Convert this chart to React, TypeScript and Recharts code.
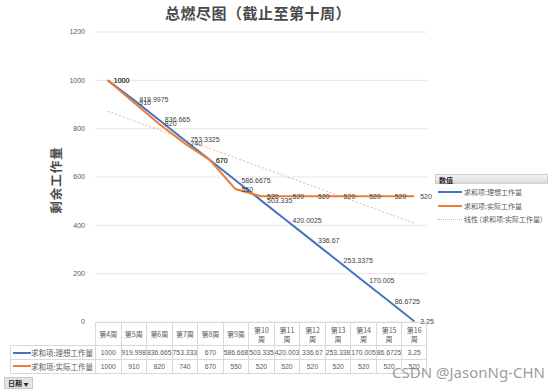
import React from 'react';
import { LineChart, Line, XAxis, YAxis, CartesianGrid, LabelList, ReferenceLine } from 'recharts';

const weeks = ['第4周', '第5周', '第6周', '第7周', '第8周', '第9周', '第10周', '第11周', '第12周', '第13周', '第14周', '第15周', '第16周'];
const idealWork = [1000, 919.9975, 836.665, 753.3325, 670, 586.6675, 503.335, 420.0025, 336.67, 253.3375, 170.005, 86.6725, 3.25];
const actualWork = [1000, 910, 820, 740, 670, 550, 520, 520, 520, 520, 520, 520, 520];
// linear trend of the actual series at its two ends
const trendStart = 872;
const trendEnd = 409;
const yTicks = [0, 200, 400, 600, 800, 1000, 1200];

const IDEAL = '#4472C4';
const ACTUAL = '#ED7D31';
const TREND = '#F4B183';

const PLOT_LEFT = 95;
const PLOT_RIGHT = 427;
const PLOT_TOP = 32;
const PLOT_BOTTOM = 322;
const COL_W = (PLOT_RIGHT - PLOT_LEFT) / weeks.length;

const cjk = '"Noto Sans CJK SC", "Liberation Sans", sans-serif';
const numFont = '"Liberation Sans", "Noto Sans CJK SC", sans-serif';

const fmt = (v: number) => String(parseFloat((v + 1e-9).toPrecision(6)));

const data = weeks.map((w, i) => ({ week: w, ideal: idealWork[i], actual: actualWork[i] }));

const cellBorder = '1px solid #d9d9d9';

const DataTable: React.FC = () => {
    const rows = [
        { name: '求和项:理想工作量', color: IDEAL, values: idealWork.map(fmt) },
        { name: '求和项:实际工作量', color: ACTUAL, values: actualWork.map(fmt) },
    ];
    return (
        <>
            {/* header */}
            <div style={{ position: 'absolute', left: PLOT_LEFT, top: PLOT_BOTTOM, height: 23, display: 'flex', borderTop: cellBorder }}>
                {weeks.map(w => (
                    <div key={w} style={{
                        width: COL_W, height: 23, boxSizing: 'border-box', borderLeft: cellBorder,
                        borderRight: w === weeks[weeks.length - 1] ? cellBorder : undefined,
                        display: 'flex', flexDirection: 'column', alignItems: 'center', justifyContent: 'center',
                        fontSize: 7, lineHeight: '9px', color: '#595959', fontFamily: cjk,
                    }}>
                        {w.length > 3 ? (<><span>{w.slice(0, -1)}</span><span>{w.slice(-1)}</span></>) : w}
                    </div>
                ))}
            </div>
            {rows.map((r, ri) => (
                <div key={r.name} style={{
                    position: 'absolute', left: 10, top: PLOT_BOTTOM + 23 + ri * 13.5, height: 13.5, display: 'flex',
                    borderTop: cellBorder, borderBottom: ri === rows.length - 1 ? cellBorder : undefined,
                }}>
                    <div style={{ width: PLOT_LEFT - 10, boxSizing: 'border-box', borderLeft: cellBorder, display: 'flex', alignItems: 'center' }}>
                        <div style={{ width: 18, height: 2, background: r.color, marginLeft: 2 }} />
                        <span style={{ fontSize: 7.5, color: '#595959', fontFamily: cjk, whiteSpace: 'nowrap' }}>{r.name}</span>
                    </div>
                    {r.values.map((v, i) => (
                        <div key={i} style={{
                            width: COL_W, boxSizing: 'border-box', borderLeft: cellBorder,
                            borderRight: i === r.values.length - 1 ? cellBorder : undefined,
                            display: 'flex', alignItems: 'center', justifyContent: 'center',
                            fontSize: 6.8, color: '#595959', fontFamily: numFont, whiteSpace: 'nowrap', overflow: 'visible',
                        }}>{v}</div>
                    ))}
                </div>
            ))}
        </>
    );
};

const Legend: React.FC = () => {
    const items = [
        { name: '求和项:理想工作量', color: IDEAL, dash: false },
        { name: '求和项:实际工作量', color: ACTUAL, dash: false },
        { name: '线性 (求和项:实际工作量)', color: TREND, dash: true },
    ];
    return (
        <div style={{ position: 'absolute', left: 435, top: 174 }}>
            <div style={{
                width: 113, height: 10, background: 'linear-gradient(#f2f2f2, #dcdcdc)', border: '1px solid #d0d0d0',
                fontSize: 7, fontWeight: 'bold', color: '#262626', fontFamily: cjk, lineHeight: '10px', paddingLeft: 3, boxSizing: 'border-box',
            }}>数值</div>
            {items.map((it, i) => (
                <div key={it.name} style={{ position: 'absolute', left: 3, top: 13 + i * 13.5, display: 'flex', alignItems: 'center', whiteSpace: 'nowrap' }}>
                    <div style={{ width: 24, height: 0, borderTop: it.dash ? `1px dotted ${it.color}` : `2px solid ${it.color}` }} />
                    <span style={{ fontSize: 7, color: '#595959', fontFamily: cjk, marginLeft: 2 }}>{it.name}</span>
                </div>
            ))}
        </div>
    );
};

export default function App() {
    return (
        <div style={{ position: 'absolute', left: 0, top: 0, width: 554, height: 391, background: '#fff', overflow: 'hidden' }}>
            <div style={{
                position: 'absolute', left: 0, width: 516, top: 2, textAlign: 'center', fontSize: 15, fontWeight: 'bold',
                color: '#4a4a4a', fontFamily: cjk, letterSpacing: 0.5,
            }}>总燃尽图（截止至第十周）</div>
            <div style={{
                position: 'absolute', left: 55, top: 180, transform: 'translate(-50%, -50%) rotate(-90deg)', whiteSpace: 'nowrap',
                fontSize: 12.5, fontWeight: 'bold', color: '#4a4a4a', fontFamily: cjk, letterSpacing: 1,
            }}>剩余工作量</div>
            <LineChart width={554} height={391} data={data}
                margin={{ top: PLOT_TOP, right: 554 - PLOT_RIGHT, bottom: 391 - PLOT_BOTTOM, left: 0 }}
                style={{ position: 'absolute', left: 0, top: 0 }}>
                <CartesianGrid vertical={false} stroke="#e6e6e6" />
                <XAxis dataKey="week" hide padding={{ left: COL_W / 2, right: COL_W / 2 }} />
                <YAxis width={PLOT_LEFT} domain={[0, 1200]} ticks={yTicks} axisLine={false} tickLine={false} tickMargin={4}
                    tick={{ fontSize: 7, fill: '#595959', fontFamily: numFont }} />
                <ReferenceLine segment={[{ x: weeks[0], y: trendStart }, { x: weeks[weeks.length - 1], y: trendEnd }]}
                    stroke={TREND} strokeWidth={1} strokeDasharray="2 2" />
                <Line dataKey="ideal" stroke={IDEAL} strokeWidth={2} dot={false} isAnimationActive={false}>
                    <LabelList dataKey="ideal" position="right" offset={6} fontSize={7} fill="#404040" fontFamily={numFont} />
                </Line>
                <Line dataKey="actual" stroke={ACTUAL} strokeWidth={2} dot={false} isAnimationActive={false}>
                    <LabelList dataKey="actual" position="right" offset={6} fontSize={7} fill="#404040" fontFamily={numFont} />
                </Line>
            </LineChart>
            <DataTable />
            <Legend />
            <div style={{
                position: 'absolute', left: 4, top: 377, height: 10, padding: '0 3px', background: '#e4e4e4', border: '1px solid #c8c8c8',
                fontSize: 7, fontFamily: cjk, color: '#262626', lineHeight: '10px', whiteSpace: 'nowrap',
            }}><b>日期</b> <span style={{ fontSize: 5 }}>▼</span></div>
            <div style={{
                position: 'absolute', left: 392, top: 362, fontSize: 15, fontFamily: '"Noto Sans", sans-serif',
                color: 'rgba(120,120,120,0.75)', whiteSpace: 'nowrap',
            }}>CSDN @JasonNg-CHN</div>
        </div>
    );
}
